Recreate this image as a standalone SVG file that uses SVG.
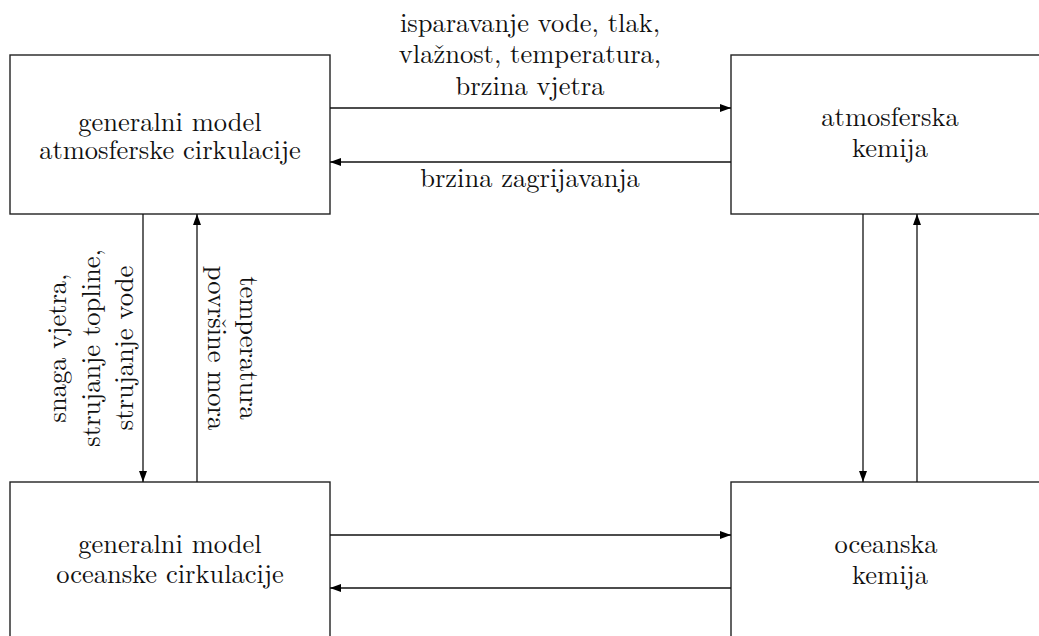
<svg xmlns="http://www.w3.org/2000/svg" width="1039" height="636" viewBox="0 0 1039 636">
<style>
.box{fill:#fff;stroke:#222;stroke-width:1.4}
.ln{stroke:#111;stroke-width:1.3;fill:none}
.t{font-family:'Latin Modern Roman','Liberation Serif',serif;font-size:26.5px;fill:#111;text-anchor:middle}
</style>
<defs>
<marker id="ah" markerWidth="11" markerHeight="8" refX="11" refY="4" orient="auto" markerUnits="userSpaceOnUse">
<path d="M0,0 L11,4 L0,8 Z" fill="#000"/>
</marker>
</defs>
<rect width="1039" height="636" fill="#fff"/>
<g id="gcm-atm">
<rect class="box" x="10" y="55" width="320" height="159"/>
<text class="t" x="170" y="131">generalni model</text>
<text class="t" x="170" y="159">atmosferske cirkulacije</text>
</g>
<g id="atm-chem">
<rect class="box" x="731" y="55" width="320" height="159"/>
<text class="t" x="890" y="126">atmosferska</text>
<text class="t" x="890" y="157">kemija</text>
</g>
<g id="gcm-ocean">
<rect class="box" x="10" y="482" width="320" height="170"/>
<text class="t" x="170" y="553">generalni model</text>
<text class="t" x="170" y="583">oceanske cirkulacije</text>
</g>
<g id="ocean-chem">
<rect class="box" x="731" y="482" width="320" height="170"/>
<text class="t" x="886" y="553">oceanska</text>
<text class="t" x="890" y="584">kemija</text>
</g>
<g id="connectors">
<line class="ln" x1="330" y1="108" x2="731" y2="108" marker-end="url(#ah)"/>
<line class="ln" x1="731" y1="162" x2="330" y2="162" marker-end="url(#ah)"/>
<line class="ln" x1="330" y1="535" x2="731" y2="535" marker-end="url(#ah)"/>
<line class="ln" x1="731" y1="588" x2="330" y2="588" marker-end="url(#ah)"/>
<line class="ln" x1="143" y1="214" x2="143" y2="482" marker-end="url(#ah)"/>
<line class="ln" x1="197" y1="482" x2="197" y2="214" marker-end="url(#ah)"/>
<line class="ln" x1="863" y1="214" x2="863" y2="482" marker-end="url(#ah)"/>
<line class="ln" x1="917" y1="482" x2="917" y2="214" marker-end="url(#ah)"/>
</g>
<g id="labels">
<text class="t" x="530" y="32">isparavanje vode, tlak,</text>
<text class="t" x="530" y="63">vlažnost, temperatura,</text>
<text class="t" x="530" y="95">brzina vjetra</text>
<text class="t" x="530" y="187">brzina zagrijavanja</text>
<text class="t" transform="translate(66,348) rotate(-90)">snaga vjetra,</text>
<text class="t" transform="translate(100,348) rotate(-90)">strujanje topline,</text>
<text class="t" transform="translate(133,348) rotate(-90)">strujanje vode</text>
<text class="t" transform="translate(240,348) rotate(90)">temperatura</text>
<text class="t" transform="translate(208,348) rotate(90)">površine mora</text>
</g>
</svg>
